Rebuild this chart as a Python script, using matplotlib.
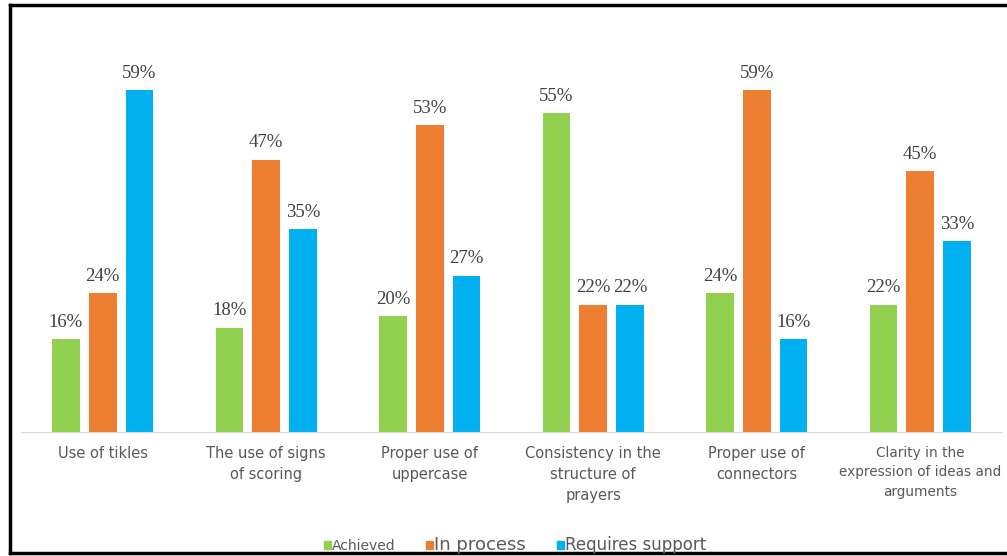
import numpy as np
import matplotlib.pyplot as plt
from matplotlib.lines import Line2D
from matplotlib.patches import Patch

categories = ["Use of tikles", "The use of signs\nof scoring", "Proper use of\nuppercase",
              "Consistency in the\nstructure of\nprayers", "Proper use of\nconnectors",
              "Clarity in the\nexpression of ideas and\narguments"]
achieved = [16, 18, 20, 55, 24, 22]
in_process = [24, 47, 53, 22, 59, 45]
requires_support = [59, 35, 27, 22, 16, 33]

series = [("Achieved", achieved, "#92D050"),
          ("In process", in_process, "#ED7D31"),
          ("Requires support", requires_support, "#00B0F0")]

fig = plt.figure(figsize=(10.07, 5.56), dpi=100)
ax = fig.add_axes([21/1007, 124/556, 981/1007, 380/556])

x = np.arange(len(categories))
w = 0.17
offs = [-0.225, 0.0, 0.225]
for (name, vals, col), o in zip(series, offs):
    bars = ax.bar(x + o, vals, w, color=col, label=name)
    for b, v in zip(bars, vals):
        ax.annotate(f"{v}%", (b.get_x() + b.get_width()/2, v), xytext=(0, 6),
                    textcoords="offset points", ha="center", va="bottom",
                    family="Liberation Serif", fontsize=13.5, color="#404040")

ax.set_xlim(-0.5, len(categories) - 0.5)
ax.set_ylim(0, 65.6)
ax.set_yticks([])
ax.set_xticks(x)
ax.set_xticklabels(categories, fontsize=10.5, color="#595959", linespacing=1.5)
ax.get_xticklabels()[-1].set_fontsize(9.8)
ax.tick_params(axis="x", length=0, pad=10)
for s in ["top", "right", "left"]:
    ax.spines[s].set_visible(False)
ax.spines["bottom"].set_color("#D9D9D9")

# legend with mismatched text sizes like the original
handles = [Patch(color=c) for _, _, c in series]
leg = fig.legend(handles, [s[0] for s in series], loc="center", ncol=3,
                 bbox_to_anchor=(515/1007, 1 - 545/556), frameon=False,
                 handlelength=0.5, handleheight=0.5, handletextpad=0.1,
                 columnspacing=2.2, fontsize=10)
for t, fs in zip(leg.get_texts(), [10, 13, 12]):
    t.set_fontsize(fs)
    t.set_color("#595959")

# black frame around the picture
fig.add_artist(Line2D([10/1007, 10/1007], [1 - 553/556, 1 - 5/556], color="black", lw=2.5))
fig.add_artist(Line2D([10/1007, 1.0], [1 - 5/556, 1 - 5/556], color="black", lw=2.5))
fig.add_artist(Line2D([10/1007, 1.0], [1 - 553/556, 1 - 553/556], color="black", lw=2.5))

fig.savefig("out.png", dpi=100)
